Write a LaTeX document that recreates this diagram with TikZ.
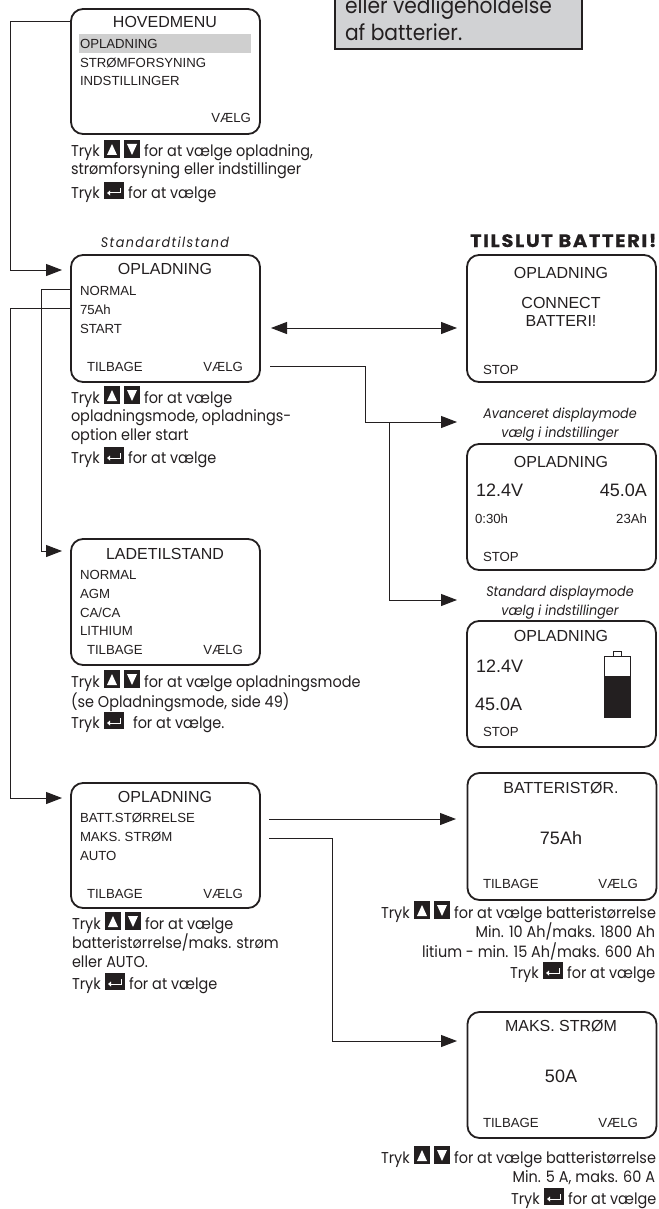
\documentclass[tikz,border=0pt]{standalone}
\usepackage{fontspec}
\usetikzlibrary{arrows.meta}
\setmainfont{Liberation Sans}
\newfontfamily\fut[FakeStretch=0.92]{Poppins}
\newfontfamily\futw[FakeStretch=0.92,LetterSpace=10]{Poppins}
\newfontfamily\futh[LetterSpace=9,FakeStretch=1.08,FakeBold=0.5]{Poppins}
\definecolor{ink}{HTML}{231F20}
\definecolor{panel}{HTML}{D1D2D4}
\definecolor{hilite}{HTML}{CFCFCF}
\newcounter{tn}
\newcommand{\lab}[5][base west]{\stepcounter{tn}\node[lbl,anchor=#1,#4] (t\thetn) at (#2,#3) {#5};}
\newcommand{\upkeys}[2]{%
  \fill[ink] (#1+33,#2-17) rectangle (#1+49,#2+1);
  \fill[white] (#1+41,#2-13) -- (#1+46,#2-2) -- (#1+36,#2-2) -- cycle;
  \fill[ink] (#1+53,#2-17) rectangle (#1+69,#2+1);
  \fill[white] (#1+61,#2-2) -- (#1+66,#2-13) -- (#1+56,#2-13) -- cycle;}
\newcommand{\enterkey}[2]{%
  \fill[ink] (#1+33,#2-16) rectangle (#1+53,#2+0.5);
  \draw[white,line width=1pt] (#1+49,#2-10) -- (#1+49,#2-5) -- (#1+38,#2-5);
  \fill[white] (#1+36,#2-5) -- (#1+39,#2-7.5) -- (#1+39,#2-2.5) -- cycle;}
\newcommand{\tryk}[3]{\lab{#1}{#2}{tx}{Tryk}\upkeys{#1}{#2}\lab{#1+73}{#2}{tx}{#3}}
\newcommand{\tryke}[4][57]{\lab{#2}{#3}{tx}{Tryk}\enterkey{#2}{#3}\lab{#2+#1}{#3}{tx}{#4}}
\begin{document}
\begin{tikzpicture}[x=1pt,y=-1pt,
  lbl/.style={inner sep=0pt,outer sep=0pt,text=ink},
  ds/.style={font=\fontsize{13.2}{13.2}\selectfont},
  dt/.style={font=\fontsize{16}{16}\selectfont},
  db/.style={font=\fontsize{18}{18}\selectfont},
  tx/.style={font=\fut\fontsize{15.7}{15.7}\selectfont},
  capt/.style={font=\fut\itshape\fontsize{13.9}{13.9}\selectfont},
  screen/.style={draw=ink,line width=1.8pt,rounded corners=12pt,inner sep=0pt,minimum width=189pt,fill=white},
  conn/.style={draw=ink,line width=1pt},
  arr/.style={conn,-{Triangle[length=16pt,width=12pt]}},
  darr/.style={conn,{Triangle[length=16pt,width=12pt]}-{Triangle[length=16pt,width=12pt]}}]
\useasboundingbox (0,0) rectangle (658,1209);
\fill[white] (0,0) rectangle (658,1209);

% warning panel (runs off the page at the top)
\fill[panel] (334,0) rectangle (583,50);
\draw[ink,line width=2pt] (335,0) -- (335,49.5) -- (582,49.5) -- (582,0);
\lab{345}{14}{font=\fut\fontsize{22}{22}\selectfont}{eller vedligeholdelse}
\lab{345}{41}{font=\fut\fontsize{22}{22}\selectfont}{af batterier.}

% screens
\node[screen,minimum height=125pt] (hov) at (165.5,71.5) {};
\node[screen,minimum height=127pt] (opl) at (165.5,318.5) {};
\node[screen,minimum height=126pt] (lad) at (165.5,602) {};
\node[screen,minimum height=125pt] (bat) at (165.5,845.5) {};
\node[screen,minimum height=127pt] (con) at (561.5,318.5) {};
\node[screen,minimum height=126pt] (adv) at (561.5,507) {};
\node[screen,minimum height=126pt] (std) at (561.5,684) {};
\node[screen,minimum height=127pt] (sto) at (562,836.5) {};
\node[screen,minimum height=126pt] (mak) at (562,1075) {};

% connector ends
\coordinate (h1) at (hov.west |- 0,22);
\coordinate (a1) at (10,22);
\coordinate (a2) at (10,270);
\coordinate (a3) at (62,270);
\coordinate (n1) at (opl.west |- 0,289);
\coordinate (n2) at (41,289);
\coordinate (n3) at (41,551);
\coordinate (n4) at (62,551);
\coordinate (s1) at (opl.west |- 0,308);
\coordinate (s2) at (10,308);
\coordinate (s3) at (10,798);
\coordinate (s4) at (62,798);
\coordinate (d1) at (271,328);
\coordinate (d2) at (457,328);
\coordinate (v1) at (270,366);
\coordinate (v2) at (365,366);
\coordinate (v3) at (365,422);
\coordinate (v4) at (457,422);
\coordinate (v5) at (389,422);
\coordinate (v6) at (389,600);
\coordinate (v7) at (457,600);
\coordinate (b1) at (269,819);
\coordinate (b2) at (456,819);
\coordinate (m1) at (269,838);
\coordinate (m2) at (332,838);
\coordinate (m3) at (332,1041);
\coordinate (m4) at (457,1041);

\draw[arr] (h1) -- (a1) -- (a2) -- (a3);
\draw[arr] (n1) -- (n2) -- (n3) -- (n4);
\draw[arr] (s1) -- (s2) -- (s3) -- (s4);
\draw[darr] (d1) -- (d2);
\draw[arr] (v1) -- (v2) -- (v3) -- (v4);
\draw[arr] (v5) -- (v6) -- (v7);
\draw[arr] (b1) -- (b2);
\draw[arr] (m1) -- (m2) -- (m3) -- (m4);

% HOVEDMENU
\fill[hilite] (79,34) rectangle (251,53);
\lab[base]{165}{28}{dt}{HOVEDMENU}
\lab{80}{49}{ds}{OPLADNING}
\lab{80}{68}{ds}{STRØMFORSYNING}
\lab{80}{86}{ds}{INDSTILLINGER}
\lab[base east]{251}{123}{ds}{VÆLG}
\tryk{71}{157}{for at vælge opladning,}
\lab{71}{175}{tx}{strømforsyning eller indstillinger}
\tryke{71}{198}{for at vælge}

% OPLADNING
\lab[base]{165}{247}{font=\futw\itshape\fontsize{13.9}{13.9}\selectfont}{Standardtilstand}
\lab[base]{165}{274}{dt}{OPLADNING}
\lab{80}{295}{ds}{NORMAL}
\lab{80}{314}{ds}{75Ah}
\lab{80}{333}{ds}{START}
\lab{87}{371}{ds}{TILBAGE}
\lab[base east]{243}{371}{ds}{VÆLG}
\tryk{71}{403}{for at vælge}
\lab{71}{421}{tx}{opladningsmode, opladnings-}
\lab{71}{440}{tx}{option eller start}
\tryke{71}{463}{for at vælge}

% LADETILSTAND
\lab[base]{165}{559}{dt}{LADETILSTAND}
\lab{80}{579}{ds}{NORMAL}
\lab{80}{598}{ds}{AGM}
\lab{80}{617}{ds}{CA/CA}
\lab{80}{635}{ds}{LITHIUM}
\lab{87}{654}{ds}{TILBAGE}
\lab[base east]{243}{654}{ds}{VÆLG}
\tryk{71}{687}{for at vælge opladningsmode}
\lab{71}{707}{tx}{(se Opladningsmode, side 49)}
\tryke[62]{71}{728}{for at vælge.}

% OPLADNING settings
\lab[base]{165}{802}{dt}{OPLADNING}
\lab{80}{822}{ds}{BATT.STØRRELSE}
\lab{80}{841}{ds}{MAKS. STRØM}
\lab{80}{860}{ds}{AUTO}
\lab{87}{898}{ds}{TILBAGE}
\lab[base east]{243}{898}{ds}{VÆLG}
\tryk{72}{929}{for at vælge}
\lab{72}{948}{tx}{batteristørrelse/maks. strøm}
\lab{72}{967}{tx}{eller AUTO.}
\tryke{72}{989}{for at vælge}

% TILSLUT BATTERI
\lab[base east]{656.5}{247}{font=\futh\bfseries\fontsize{18}{18}\selectfont}{TILSLUT BATTERI!}
\lab[base]{561}{278}{dt}{OPLADNING}
\lab[base]{561}{308}{dt}{CONNECT}
\lab[base]{561}{326}{dt}{BATTERI!}
\lab{483}{374}{ds}{STOP}

% advanced display
\lab[base]{560}{418}{capt}{Avanceret displaymode}
\lab[base]{560}{437}{capt}{vælg i indstillinger}
\lab[base]{561}{467}{dt}{OPLADNING}
\lab{476}{496}{db}{12.4V}
\lab[base east]{647}{496}{db}{45.0A}
\lab{475}{523}{ds}{0:30h}
\lab[base east]{647}{523}{ds}{23Ah}
\lab{483}{561}{ds}{STOP}

% standard display
\lab[base]{560}{596}{capt}{Standard displaymode}
\lab[base]{560}{615}{capt}{vælg i indstillinger}
\lab[base]{561}{641}{dt}{OPLADNING}
\lab{476}{672}{db}{12.4V}
\lab{475}{710}{db}{45.0A}
\lab{483}{736}{ds}{STOP}
\draw[ink,line width=0.8pt] (604.5,656) rectangle (630,717);
\draw[ink,line width=0.8pt] (613.5,651) rectangle (621,656);
\fill[ink] (604,676) rectangle (630.5,717.5);

% battery size
\lab[base]{561}{793}{dt}{BATTERISTØR.}
\lab[base]{561}{844}{db}{75Ah}
\lab{483}{888}{ds}{TILBAGE}
\lab[base east]{638}{888}{ds}{VÆLG}
\tryk{381}{918}{for at vælge batteristørrelse}
\lab[base east]{655}{937}{tx}{Min. 10 Ah/maks. 1800 Ah}
\lab[base east]{655}{957}{tx}{litium - min. 15 Ah/maks. 600 Ah}
\tryke{510}{978}{for at vælge}

% max current
\lab[base]{561}{1031}{dt}{MAKS. STRØM}
\lab[base]{561}{1082}{db}{50A}
\lab{483}{1127}{ds}{TILBAGE}
\lab[base east]{638}{1127}{ds}{VÆLG}
\tryk{381}{1163}{for at vælge batteristørrelse}
\lab[base east]{655}{1182}{tx}{Min. 5 A, maks. 60 A}
\tryke{511}{1204}{for at vælge}
\end{tikzpicture}
\end{document}
